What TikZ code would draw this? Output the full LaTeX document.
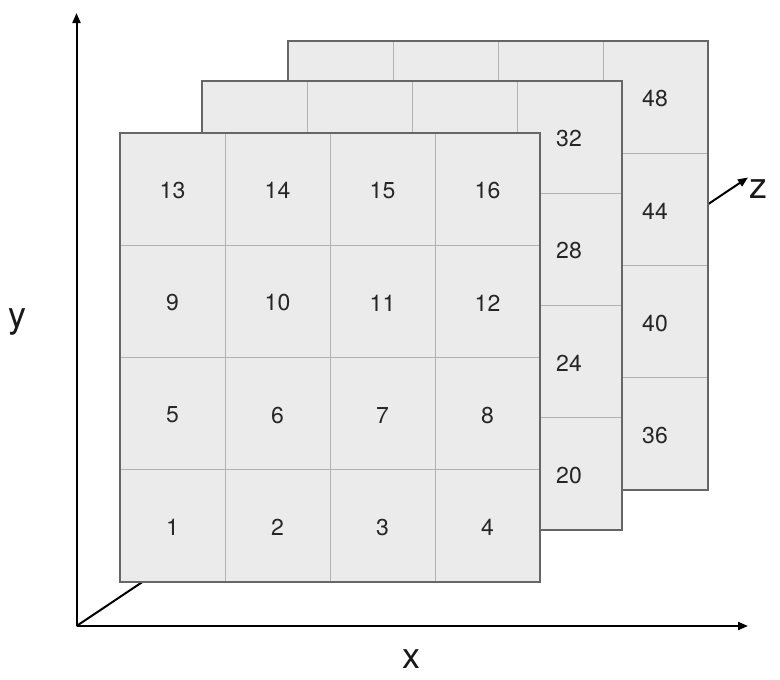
\documentclass[tikz,border=0pt]{standalone}
\usepackage{fontspec}
\setmainfont{TeX Gyre Heros}
\usetikzlibrary{arrows.meta}
\begin{document}
\begin{tikzpicture}[x=1pt,y=-1pt,
  axis/.style={line width=2pt,-{Triangle[length=10pt,width=8pt]}},
  cellfill/.style={fill=black!8},
  gridline/.style={draw=black!30,line width=1pt},
  border/.style={draw=black!60,line width=1.3pt},
  num/.style={font=\fontsize{23}{23}\selectfont,text=black!85},
  axlabel/.style={font=\fontsize{36}{36}\selectfont,text=black!90}]
\useasboundingbox (0,0) rectangle (780,680);
% axes
\coordinate (O) at (76.5,626);
\coordinate (Ytip) at (76.5,13);
\coordinate (Xtip) at (748,626);
\coordinate (Ztip) at (748,177.5);
\draw[axis] (O) -- (Ytip);
\draw[axis] (O) -- (Xtip);
\draw[axis] (O) -- (Ztip);
% layers: back, middle, front
\foreach \dx/\dy in {168/-92, 82/-52, 0/0}{
  \begin{scope}[shift={(\dx,\dy)}]
    \fill[cellfill] (120,133) rectangle (540,582);
    \foreach \gx in {225,330,435} \draw[gridline] (\gx,133) -- (\gx,582);
    \foreach \gy in {245.25,357.5,469.75} \draw[gridline] (120,\gy) -- (540,\gy);
    \draw[border] (120,133) rectangle (540,582);
  \end{scope}
}
% back layer visible labels
\node[num] (b48) at (655,98.5) {48};
\node[num] (b44) at (655,210.9) {44};
\node[num] (b40) at (655,323.1) {40};
\node[num] (b36) at (655,435.4) {36};
% middle layer visible labels
\node[num] (m32) at (569,138.5) {32};
\node[num] (m28) at (569,250.9) {28};
\node[num] (m24) at (569,363.1) {24};
\node[num] (m20) at (569,475.4) {20};
% front layer labels
\foreach \n [count=\i from 0] in {13,14,15,16,9,10,11,12,5,6,7,8,1,2,3,4}{
  \pgfmathsetmacro{\cx}{172.5+105*mod(\i,4)}
  \pgfmathsetmacro{\cy}{190.6+112.25*floor(\i/4)}
  \node[num] (f\n) at (\cx,\cy) {\n};
}
% axis labels
\node[axlabel] (ylab) at (18,322) {y};
\node[axlabel] (xlab) at (411,659) {x};
\node[axlabel] (zlab) at (758,189) {z};
\end{tikzpicture}
\end{document}
